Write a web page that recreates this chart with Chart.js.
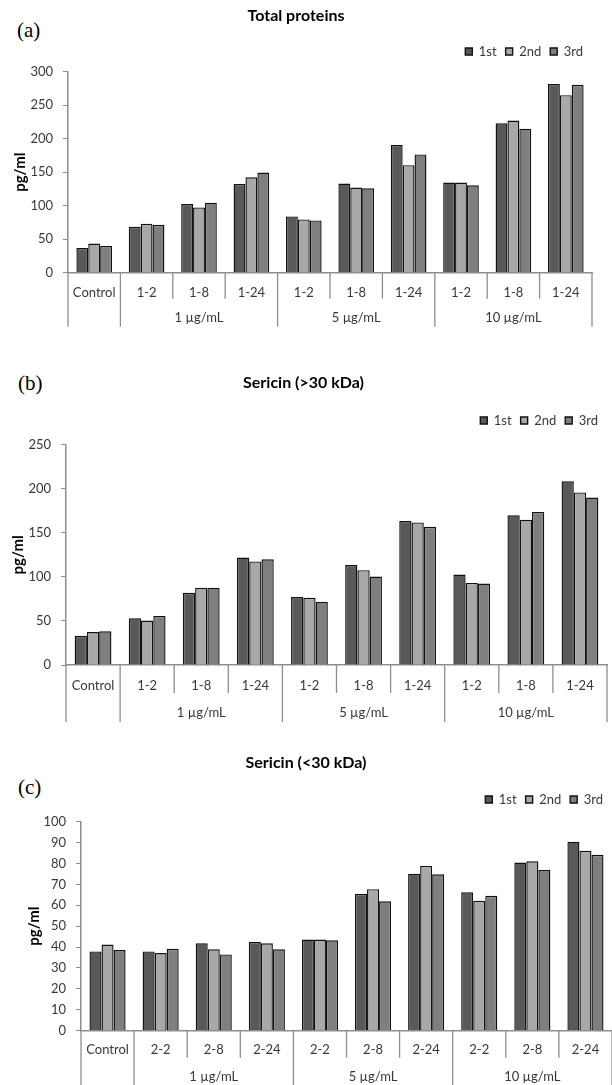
<!DOCTYPE html>
<html>
<head>
<meta charset="utf-8">
<script src="https://cdn.jsdelivr.net/npm/chart.js@4.4.0/dist/chart.umd.min.js"></script>
<style>
html,body{margin:0;padding:0;background:#fff;}
body{width:612px;height:1085px;position:relative;overflow:hidden;}
canvas{position:absolute;left:0;}
.lab{position:absolute;font-family:'Liberation Serif','DejaVu Serif',serif;font-size:21px;color:#000;line-height:1;}
</style>
</head>
<body>
<div class="lab" style="left:17px;top:20px">(a)</div>
<div class="lab" style="left:18px;top:373px">(b)</div>
<div class="lab" style="left:18px;top:777px">(c)</div>
<canvas id="ca" width="612" height="340" style="top:0px"></canvas>
<canvas id="cb" width="612" height="390" style="top:345px"></canvas>
<canvas id="cc" width="612" height="350" style="top:735px"></canvas>
<script>
// ---------- data ----------
const seriesNames = ['1st', '2nd', '3rd'];
const groupLabels = ['', '1 µg/mL', '5 µg/mL', '10 µg/mL'];
const groupSizes = [1, 3, 3, 3];
const categoriesAB = ['Control', '1-2', '1-8', '1-24', '1-2', '1-8', '1-24', '1-2', '1-8', '1-24'];
const categoriesC = ['Control', '2-2', '2-8', '2-24', '2-2', '2-8', '2-24', '2-2', '2-8', '2-24'];

const titleA = 'Total proteins';
const totalFirst  = [37, 68.5, 102.5, 132.5, 84, 133, 190.5, 134.5, 223, 281.5];
const totalSecond = [43.5, 73, 97.5, 142.5, 79.5, 127, 160.5, 134.5, 227, 265];
const totalThird  = [40, 71.5, 104.5, 149.5, 78, 126, 176.5, 130.5, 215, 280.5];

const titleB = 'Sericin (>30 kDa)';
const bigFirst  = [33.2, 53, 82, 122, 77.1, 113.4, 163.4, 102.7, 169.9, 208.4];
const bigSecond = [37.4, 50.4, 87.8, 117.5, 76.3, 107.6, 161.8, 93.1, 164.9, 195.8];
const bigThird  = [38.2, 55.7, 87.8, 119.9, 71.4, 100.4, 156.9, 92.4, 173.7, 190.1];

const titleC = 'Sericin (<30 kDa)';
const smallFirst  = [37.9, 37.9, 41.8, 42.4, 43.6, 65.4, 75.1, 66.2, 80.4, 90.4];
const smallSecond = [41.2, 37.1, 38.9, 41.8, 43.6, 67.7, 78.8, 62.1, 81, 86];
const smallThird  = [38.6, 39.2, 36.5, 38.9, 43.2, 61.9, 74.8, 64.5, 76.8, 84.1];

const yTitle = 'pg/ml';

// ---------- styles ----------
const seriesColors = ['#595959', '#a8a8a8', '#7f7f7f'];
const axisColor = '#8e8e8e';
const textColor = '#383838';
Chart.defaults.font.family = 'Lato, "Liberation Sans", sans-serif';
Chart.defaults.color = textColor;

const groupAxisPlugin = {
  id: 'groupAxis',
  afterInit(chart, args, opts) {
    const lg = chart.legend;
    if (lg && !lg._wrapped) {
      const orig = lg.fit;
      lg.fit = function () { orig.call(this); this.height += (opts.legendExtra || 0); };
      lg._wrapped = true;
    }
  },
  afterDraw(chart, args, opts) {
    const xs = chart.scales.x;
    const ctx = chart.ctx;
    const y0 = xs.top;
    const n = xs.getLabels().length;
    const majors = new Set([0]);
    let acc = 0;
    groupSizes.forEach(s => { acc += s; majors.add(acc); });
    ctx.save();
    ctx.strokeStyle = axisColor;
    ctx.lineWidth = 1.3;
    for (let i = 0; i <= n; i++) {
      const x = xs.getPixelForValue(i - 0.5);
      const len = majors.has(i) ? opts.major : opts.minor;
      ctx.beginPath();
      ctx.moveTo(x, y0);
      ctx.lineTo(x, y0 + len);
      ctx.stroke();
    }
    ctx.fillStyle = textColor;
    ctx.font = '13px Lato, "Liberation Sans", sans-serif';
    ctx.textAlign = 'center';
    ctx.textBaseline = 'middle';
    let start = 0;
    groupLabels.forEach((g, k) => {
      const end = start + groupSizes[k];
      const cx = (xs.getPixelForValue(start - 0.5) + xs.getPixelForValue(end - 0.5)) / 2;
      if (g) ctx.fillText(g, cx, y0 + opts.groupOff);
      start = end;
    });
    ctx.restore();
  }
};

function makeChart(id, title, cats, vals, L) {
  const datasets = seriesNames.map((name, k) => ({
    label: name,
    data: vals[k],
    backgroundColor: seriesColors[k],
    borderColor: '#111111',
    borderWidth: 1.4,
    categoryPercentage: 0.68,
    barPercentage: 1.0
  }));
  return new Chart(document.getElementById(id), {
    type: 'bar',
    data: { labels: cats, datasets },
    plugins: [groupAxisPlugin],
    options: {
      responsive: false,
      animation: false,
      devicePixelRatio: 1,
      layout: { padding: { left: 0, right: L.padRight, top: 0, bottom: 0 } },
      plugins: {
        title: {
          display: true, text: title, color: '#000',
          font: { size: 16, weight: 'bold', lineHeight: 1.125 },
          padding: { top: L.titleT, bottom: L.titleB }
        },
        legend: {
          display: true, position: 'top', align: 'end',
          labels: { boxWidth: 7, boxHeight: 7, padding: 9, color: textColor, font: { size: 13 } }
        },
        tooltip: { enabled: false },
        groupAxis: { legendExtra: L.legendExtra, minor: L.minor, major: L.major, groupOff: L.groupOff }
      },
      scales: {
        x: {
          type: 'category',
          grid: { display: false, drawTicks: false },
          border: { display: true, color: axisColor, width: 1.5 },
          ticks: { color: textColor, font: { size: 13 }, padding: L.tickPad, maxRotation: 0, autoSkip: false },
          afterFit: s => { s.height = L.h - L.zero; }
        },
        y: {
          min: 0, max: L.yMax,
          grid: { drawOnChartArea: false, drawTicks: true, tickLength: 5, color: axisColor },
          border: { display: true, color: axisColor, width: 1.5 },
          ticks: { stepSize: L.step, color: textColor, font: { size: 13 }, padding: 10 },
          title: { display: true, text: yTitle, color: '#000', font: { size: 15, weight: 'bold' }, padding: { top: L.yTitlePad, bottom: 0 } },
          afterFit: s => { s.width = L.axisLeft; }
        }
      }
    }
  });
}

makeChart('ca', titleA, categoriesAB, [totalFirst, totalSecond, totalThird],
  { h: 340, zero: 272.7, axisLeft: 68, padRight: 20, yMax: 300, step: 50, titleT: 7, titleB: 11, legendExtra: 3.7,
    yTitlePad: 11, tickPad: 12, groupOff: 45, minor: 26, major: 54 });
makeChart('cb', titleB, categoriesAB, [bigFirst, bigSecond, bigThird],
  { h: 390, zero: 320, axisLeft: 66, padRight: 5, yMax: 250, step: 50, titleT: 29, titleB: 13, legendExtra: 7.7,
    yTitlePad: 9, tickPad: 13, groupOff: 48, minor: 28, major: 57 });
makeChart('cc', titleC, categoriesC, [smallFirst, smallSecond, smallThird],
  { h: 350, zero: 295.7, axisLeft: 81, padRight: 0, yMax: 100, step: 10, titleT: 19, titleB: 12, legendExtra: 5.6,
    yTitlePad: 25, tickPad: 11, groupOff: 46, minor: 27, major: 60 });
</script>
</body>
</html>
